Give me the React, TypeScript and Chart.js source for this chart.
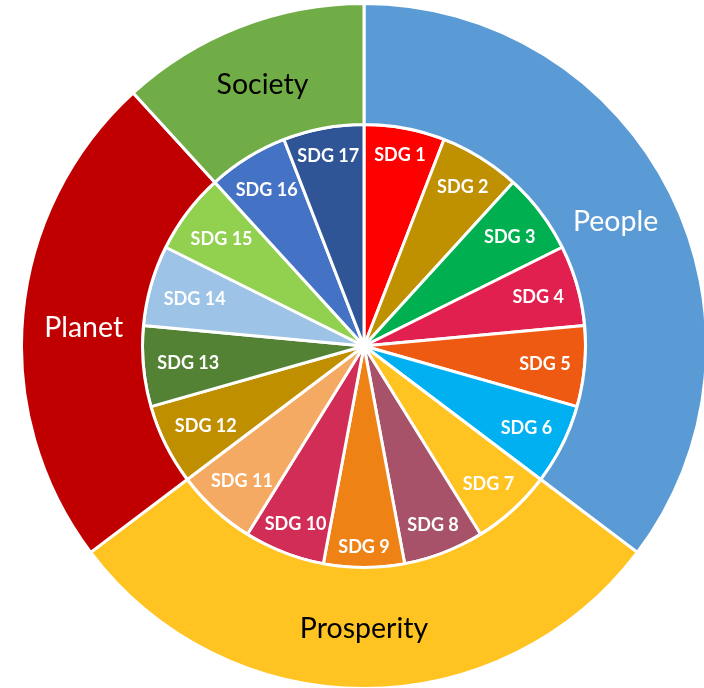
import React, { useEffect, useRef } from "react";
import { Chart, registerables } from "chart.js";

Chart.register(...registerables);

const groupLabels = ["People", "Prosperity", "Planet", "Society"];
const groupValues = [6, 5, 4, 2];
const groupColors = ["#5B9BD5", "#FFC322", "#C00000", "#70AD47"];
const groupTextColors = ["#FFFFFF", "#000000", "#FFFFFF", "#000000"];

const sdgLabels = [
  "SDG 1", "SDG 2", "SDG 3", "SDG 4", "SDG 5", "SDG 6", "SDG 7", "SDG 8", "SDG 9",
  "SDG 10", "SDG 11", "SDG 12", "SDG 13", "SDG 14", "SDG 15", "SDG 16", "SDG 17",
];
const sdgValues = [1, 1, 1, 1, 1, 1, 1, 1, 1, 1, 1, 1, 1, 1, 1, 1, 1];
const sdgColors = [
  "#FF0000", "#BF9000", "#00B050", "#E2204F", "#EF5A13", "#00B0F0", "#FFC322",
  "#A8526A", "#EE8215", "#D22D57", "#F4AA62", "#BF8F00", "#548235", "#9DC3E6",
  "#92D050", "#4472C4", "#2F5597",
];

// Manual label angle override (degrees clockwise from top) for the outer ring
const outerLabelAngleOverride: Record<number, number> = { 2: 274 };

const labelPlugin = {
  id: "ringLabels",
  afterDatasetsDraw(chart: any) {
    const ctx: CanvasRenderingContext2D = chart.ctx;
    ctx.save();
    ctx.textAlign = "center";
    ctx.textBaseline = "alphabetic";

    // inner SDG labels
    const innerMeta = chart.getDatasetMeta(1);
    ctx.font = "bold 18px Lato";
    ctx.fillStyle = "#FFFFFF";
    const capIn = ctx.measureText("H").actualBoundingBoxAscent;
    innerMeta.data.forEach((arc: any, i: number) => {
      const p = arc.getProps(["x", "y", "startAngle", "endAngle", "outerRadius"], true);
      const a = (p.startAngle + p.endAngle) / 2;
      const w = ctx.measureText(sdgLabels[i]).width;
      const r = p.outerRadius - 13.5 - (Math.abs(Math.cos(a)) * w / 2 + Math.abs(Math.sin(a)) * 8);
      const x = p.x + Math.cos(a) * r;
      const y = p.y + Math.sin(a) * r;
      ctx.fillText(sdgLabels[i], x, y + capIn / 2);
    });

    // outer group labels
    const outerMeta = chart.getDatasetMeta(0);
    ctx.font = "28.5px Lato";
    const capOut = ctx.measureText("H").actualBoundingBoxAscent;
    outerMeta.data.forEach((arc: any, i: number) => {
      const p = arc.getProps(["x", "y", "startAngle", "endAngle", "outerRadius", "innerRadius"], true);
      let a = (p.startAngle + p.endAngle) / 2;
      if (outerLabelAngleOverride[i] !== undefined) {
        a = (outerLabelAngleOverride[i] - 90) * Math.PI / 180;
      }
      const r = (p.outerRadius + p.innerRadius) / 2 - 1;
      const x = p.x + Math.cos(a) * r;
      const y = p.y + Math.sin(a) * r;
      ctx.fillStyle = groupTextColors[i];
      ctx.fillText(groupLabels[i], x, y + capOut / 2);
    });
    ctx.restore();
  },
};

export default function App() {
  const ref = useRef<HTMLCanvasElement | null>(null);
  useEffect(() => {
    if (!ref.current) return;
    const chart = new Chart(ref.current, {
      type: "doughnut",
      data: {
        labels: sdgLabels,
        datasets: [
          {
            data: groupValues,
            backgroundColor: groupColors,
            borderColor: "#FFFFFF",
            borderWidth: 3,
            weight: 121,
          } as any,
          {
            data: sdgValues,
            backgroundColor: sdgColors,
            borderColor: "#FFFFFF",
            borderWidth: 3,
            weight: 221.5,
          } as any,
        ],
      },
      options: {
        responsive: false,
        maintainAspectRatio: false,
        animation: false,
        devicePixelRatio: 1,
        cutout: 0,
        events: [],
        layout: { padding: 0 },
        plugins: {
          legend: { display: false },
          tooltip: { enabled: false },
        },
      } as any,
      plugins: [labelPlugin],
    });
    return () => chart.destroy();
  }, []);

  return (
    <div
      style={{
        position: "fixed",
        left: 0,
        top: 0,
        width: 704,
        height: 688,
        overflow: "hidden",
        background: "#FFFFFF",
      }}
    >
      <canvas
        ref={ref}
        width={688}
        height={688}
        style={{ position: "absolute", left: 20, top: 2, width: 688, height: 688 }}
      />
    </div>
  );
}
